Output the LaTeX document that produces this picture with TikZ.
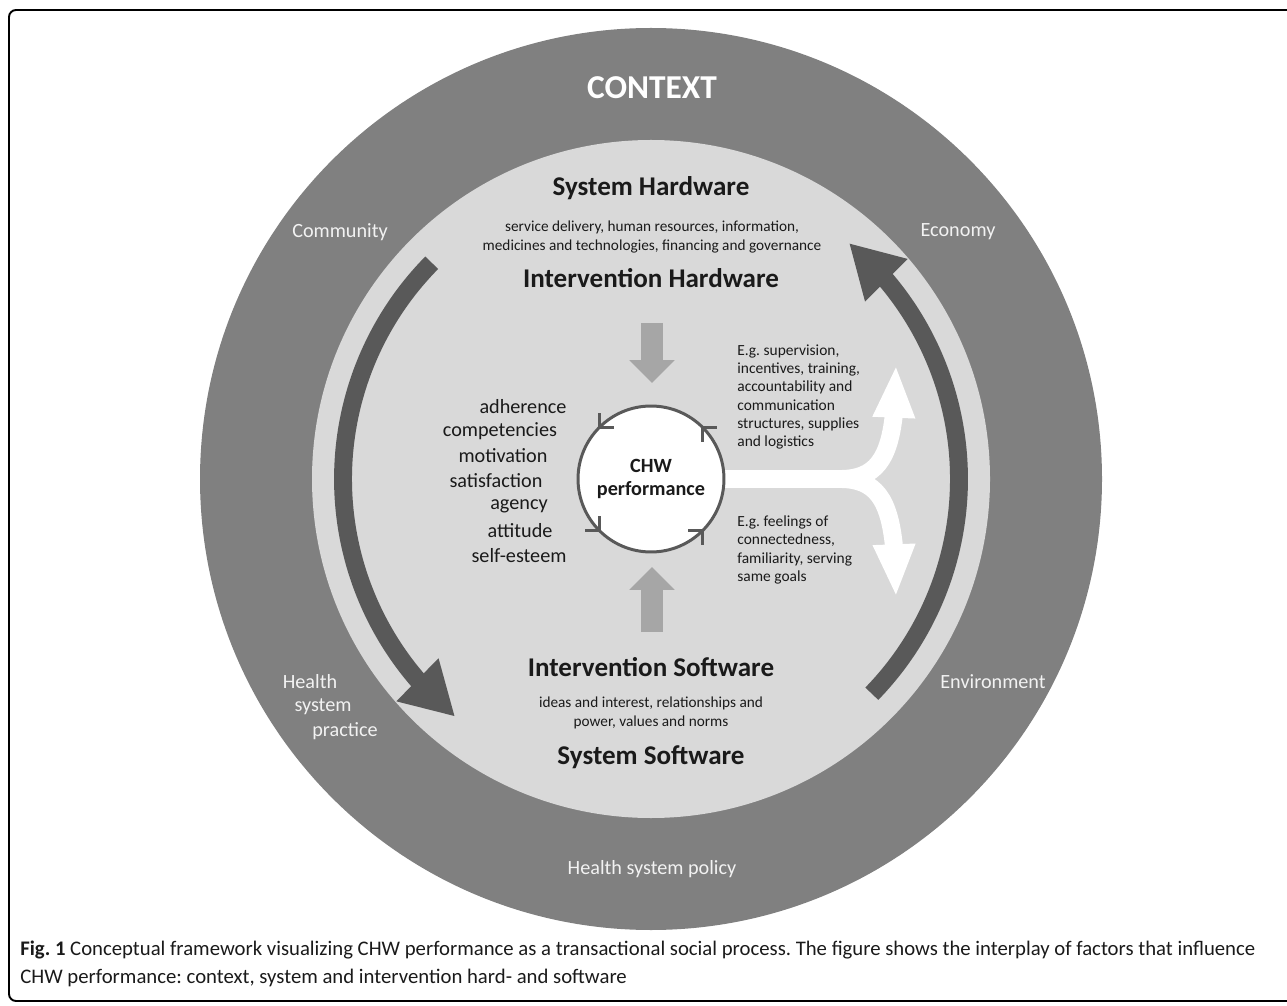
\documentclass[tikz,border=0pt]{standalone}
\usepackage{fontspec}
\setmainfont{Carlito}
\usetikzlibrary{arrows.meta, bending}

\definecolor{ringgray}{HTML}{808080}
\definecolor{innergray}{HTML}{D9D9D9}
\definecolor{arcgray}{HTML}{595959}
\definecolor{feedgray}{HTML}{A6A6A6}
\definecolor{paleink}{HTML}{F2F2F2}
\definecolor{ink}{HTML}{1A1A1A}

\begin{document}
\frenchspacing
\begin{tikzpicture}[x=0.02cm, y=0.02cm,
  ringlabel/.style={text=paleink, inner sep=0pt, font=\fontsize{11.5}{14}\selectfont},
  layer/.style={text=ink, inner sep=0pt, font=\fontsize{15.4}{18}\selectfont\bfseries},
  subline/.style={text=ink, inner sep=0pt, align=center, font=\fontsize{8.7}{10.6}\selectfont},
  trait/.style={text=ink, inner sep=0pt, font=\fontsize{11.5}{14}\selectfont},
  egtext/.style={text=ink, inner sep=0pt, align=left, anchor=west, font=\fontsize{8.8}{10.4}\selectfont},
  bigarc/.style={draw=arcgray, line width=10.2pt, -{Triangle[length=30pt, width=32pt]}},
  feed/.style={draw=feedgray, line width=12.5pt, -{Triangle[length=13pt, width=25pt]}},
  fork/.style={draw=white, line width=10.2pt, -{Triangle[length=30pt, width=22pt]}},
  chev/.style={draw=arcgray, line width=1.5pt},
  caption/.style={anchor=base west, inner sep=0pt, text=ink, font=\fontsize{11.8}{14}\selectfont}]

  \useasboundingbox (0,0) rectangle (1287,1005);
  \draw[line width=1.1pt, rounded corners=4pt] (1300,995) -- (9,995) -- (9,4) -- (1300,4);

  % context ring and system/intervention disc
  \fill[ringgray] (651,526) circle[radius=451];
  \fill[innergray] (651,526) circle[radius=339];

  \node[text=white, inner sep=0pt, font=\fontsize{19}{22}\selectfont\bfseries] (context) at (652,917) {CONTEXT};
  \node[ringlabel] (community) at (340,773) {Community};
  \node[ringlabel] (economy) at (958,773) {Economy};
  \node[ringlabel] (health) at (310,323) {Health};
  \node[ringlabel] (hsystem) at (323,298) {system};
  \node[ringlabel] (practice) at (345,274) {practice};
  \node[ringlabel] (environment) at (993,323) {Environment};
  \node[ringlabel] (policy) at (652,136) {Health system policy};

  % cycle arrows
  \draw[bigarc] (651,526) ++(135.4:308) arc[start angle=135.4, end angle=230.5, radius=308];
  \draw[bigarc] (651,526) ++(-44.2:308) arc[start angle=-44.2, end angle=50, radius=308];

  \node[layer] (shw) at (651,817) {System Hardware};
  \node[subline] (shwlist) at (652,768) {service delivery, human resources, information,\\medicines and technologies, financing and governance};
  \node[layer] (ihw) at (651,727) {Intervention Hardware};

  \node[layer] (isw) at (651,338) {Intervention Software};
  \node[subline] (iswlist) at (651,292) {ideas and interest, relationships and\\power, values and norms};
  \node[layer] (ssw) at (651,248) {System Software};

  % feeding arrows
  \coordinate (hwfoot) at (652,682);
  \coordinate (hwtip) at (652,622);
  \coordinate (swfoot) at (652,373);
  \coordinate (swtip) at (652,438);
  \draw[feed] (hwfoot) -- (hwtip);
  \draw[feed] (swfoot) -- (swtip);

  % outcome fork
  \coordinate (upend) at (896,640);
  \coordinate (downend) at (896,408);
  \node[circle, minimum size=2.92cm, inner sep=0pt] (chwspot) at (651,526) {};
  \draw[fork] (chwspot.east) -- (840,526) .. controls (884,526) and (896,556) .. (upend);
  \draw[fork] (chwspot.east) -- (840,526) .. controls (884,526) and (896,496) .. (downend);

  \node[circle, draw=arcgray, line width=1.7pt, fill=white, minimum size=2.92cm, inner sep=0pt,
        align=center, text=ink, font=\fontsize{11.5}{13}\selectfont\bfseries] (chw) at (651,526) {CHW\\performance};
  \draw[chev, shift={(chw.center)}, rotate=45] (63,-10) -- (73,0) -- (83,-10);
  \draw[chev, shift={(chw.center)}, rotate=135] (63,-10) -- (73,0) -- (83,-10);
  \draw[chev, shift={(chw.center)}, rotate=225] (63,-10) -- (73,0) -- (83,-10);
  \draw[chev, shift={(chw.center)}, rotate=315] (63,-10) -- (73,0) -- (83,-10);

  \node[trait] (adherence) at (523,598) {adherence};
  \node[trait] (competencies) at (500,574) {competencies};
  \node[trait] (motivation) at (503,549) {motivation};
  \node[trait] (satisfaction) at (496,524) {satisfaction};
  \node[trait] (agency) at (519,499) {agency};
  \node[trait] (attitude) at (520,474) {attitude};
  \node[trait] (selfesteem) at (519,449) {self-esteem};

  \node[egtext] (hardeg) at (737,608) {E.g. supervision,\\incentives, training,\\accountability and\\communication\\structures, supplies\\and logistics};
  \node[egtext] (softeg) at (737,455) {E.g. feelings of\\connectedness,\\familiarity, serving\\same goals};

  \node[caption] (cap1) at (20,50)
    {\textbf{Fig. 1} Conceptual framework visualizing CHW performance as a transactional social process. The figure shows the interplay of factors that influence};
  \node[caption] (cap2) at (20,22)
    {CHW performance: context, system and intervention hard- and software};
\end{tikzpicture}
\end{document}
